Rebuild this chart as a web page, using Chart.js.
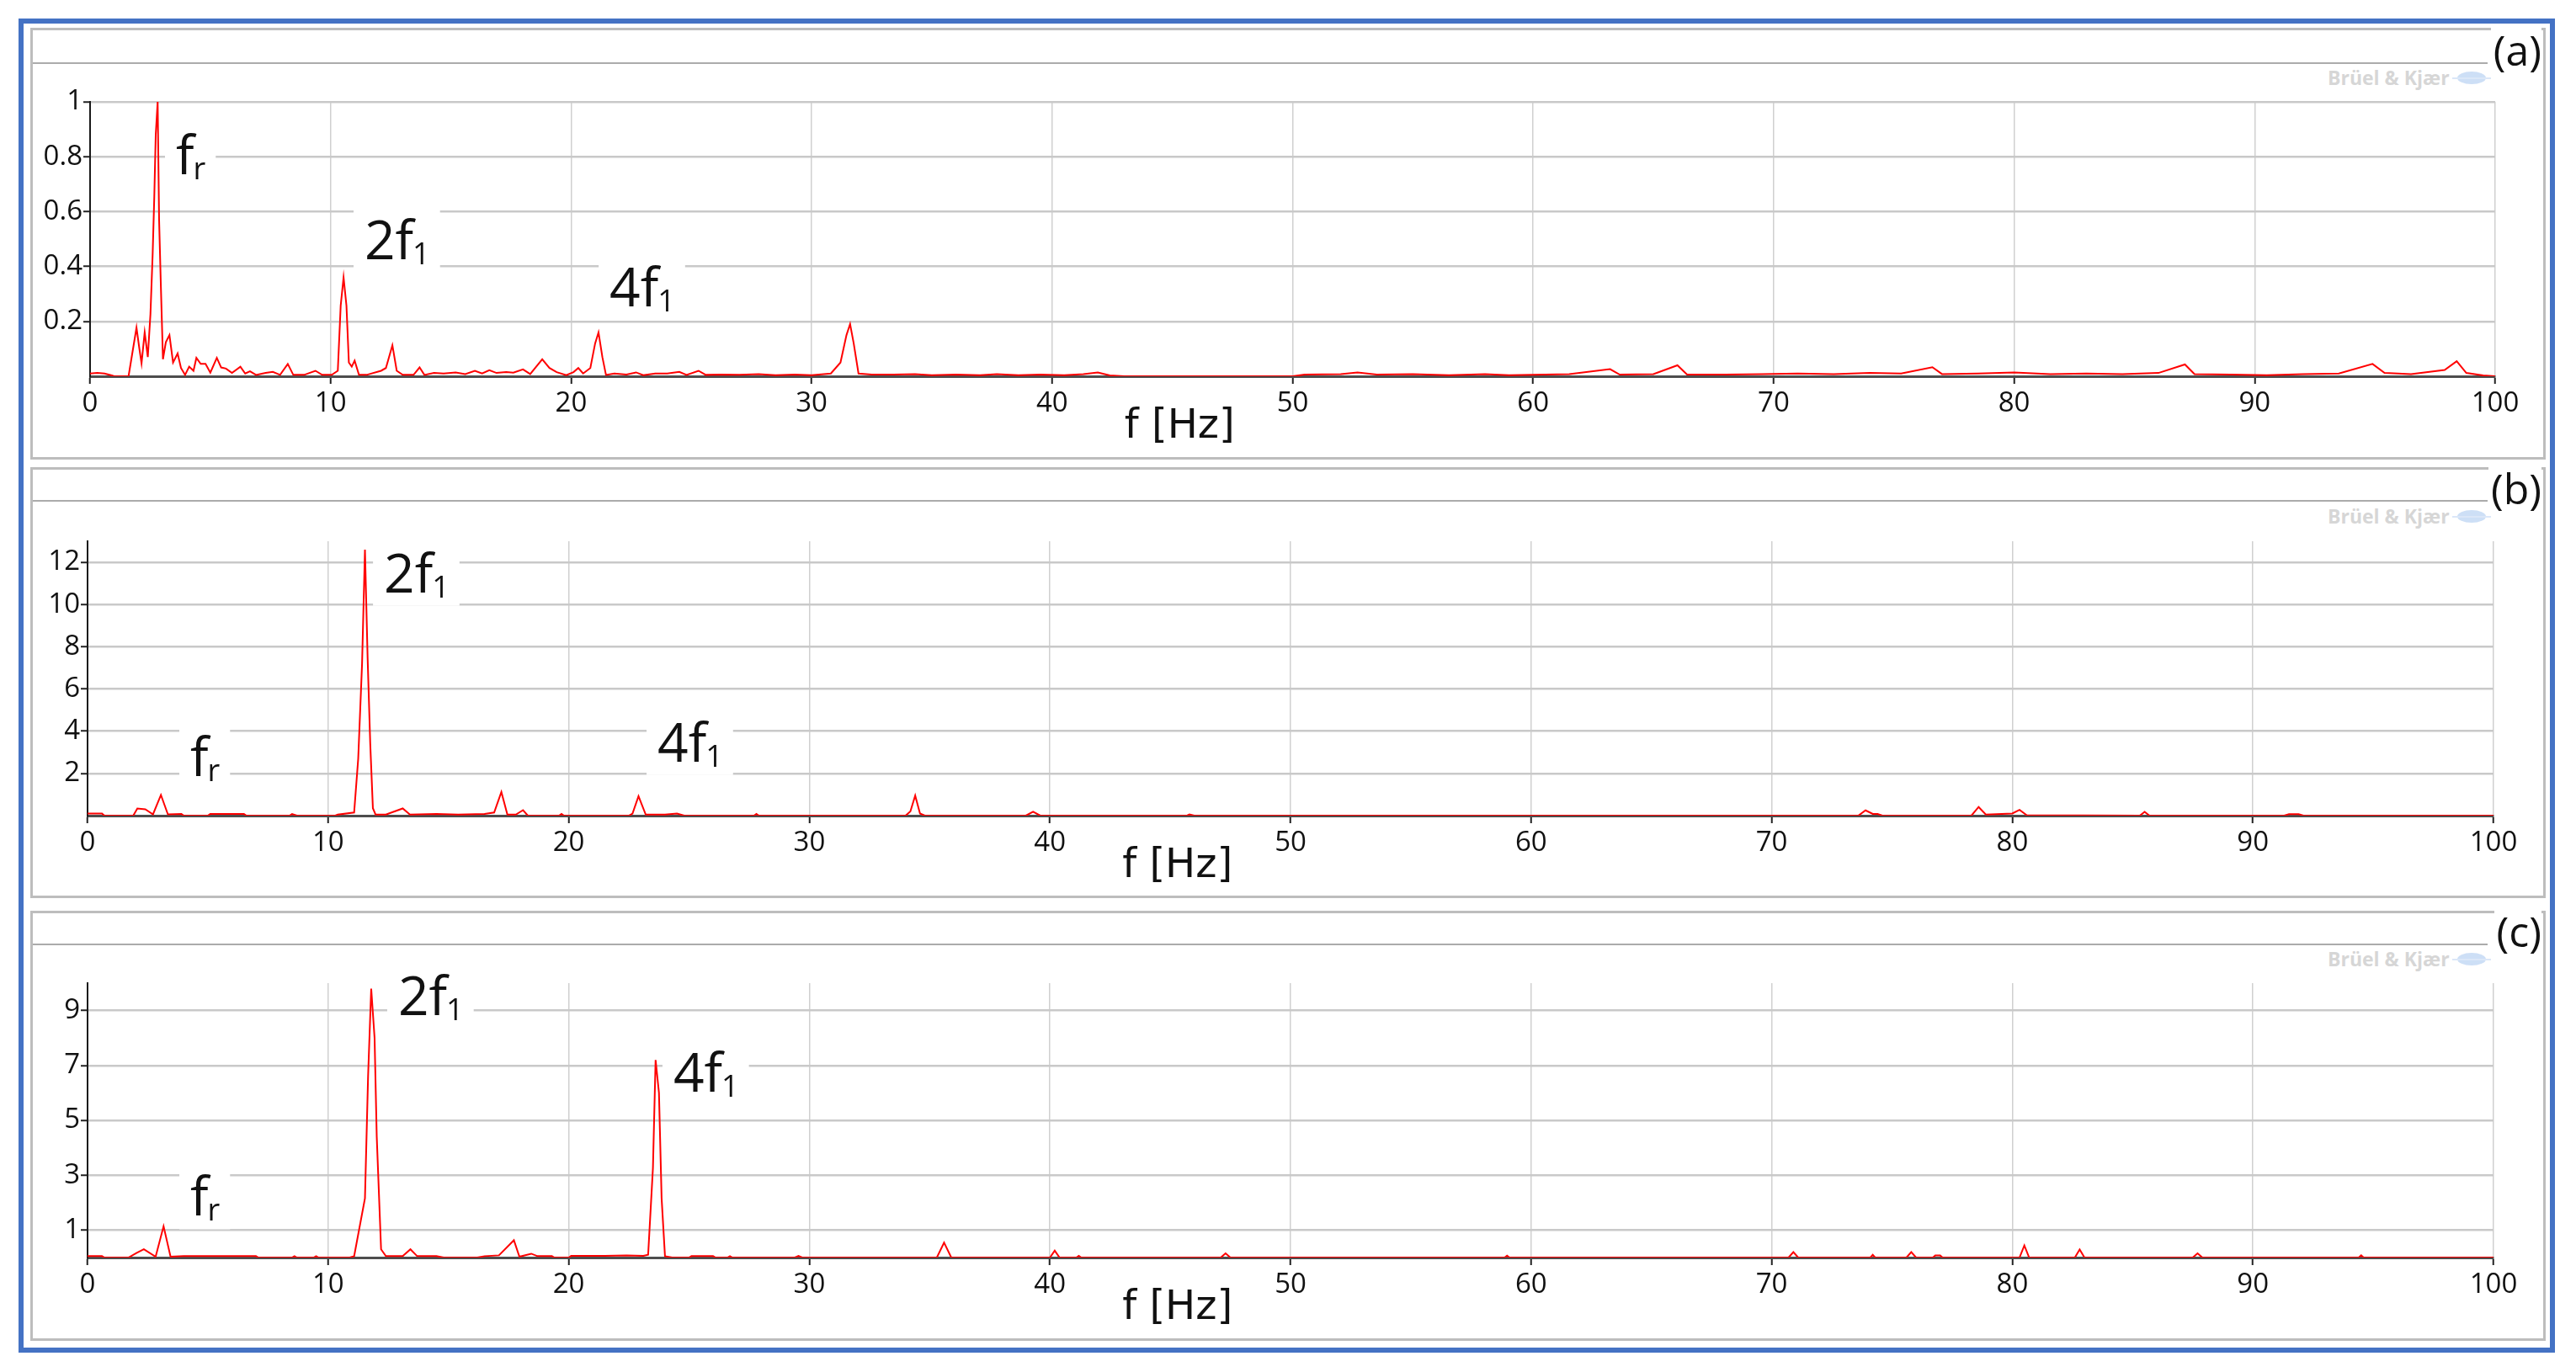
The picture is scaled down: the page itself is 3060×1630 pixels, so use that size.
<!DOCTYPE html>
<html>
<head>
<meta charset="utf-8">
<script src="https://cdn.jsdelivr.net/npm/chart.js@4.4.1/dist/chart.umd.min.js"></script>
<style>
  body { margin:0; width:3060px; height:1630px; background:#fff; position:relative; overflow:hidden; font-family:"Open Sans", sans-serif; }
  .frame { position:absolute; left:22px; top:22px; width:3013px; height:1585px; border:6px solid #4472c4; box-sizing:border-box; }
  .panel { position:absolute; left:36px; width:2988px; border:3px solid #bdbdbd; box-sizing:border-box; background:#fff; }
  .hline { position:absolute; left:0; width:2916px; height:2px; background:#ababab; }
  .tag { position:absolute; right:2px; font-size:50px; line-height:56px; height:56px; color:#111; background:#fff; padding-left:3px; }
  .wm { position:absolute; left:2726px; font-size:23px; line-height:23px; font-weight:700; color:#d6d6d6; white-space:nowrap; }
  .logo { position:absolute; left:2880px; width:34px; height:15px; border-radius:50%; background:#cddff6; }
  .logo:after { content:""; position:absolute; left:-6px; top:7px; width:46px; height:2px; background:#dbe7f8; }
  canvas { position:absolute; left:0; }
</style>
</head>
<body>
<div class="frame"></div>

<div class="panel" style="top:33px;height:513px">
  <div class="hline" style="top:38px"></div>
  <div class="tag" style="top:-5px">(a)</div>
  <div class="wm" style="top:45px">Brüel &amp; Kjær</div>
  <div class="logo" style="top:49px"></div>
</div>
<div class="panel" style="top:555px;height:512px">
  <div class="hline" style="top:36px"></div>
  <div class="tag" style="top:-6px">(b)</div>
  <div class="wm" style="top:44px">Brüel &amp; Kjær</div>
  <div class="logo" style="top:48px"></div>
</div>
<div class="panel" style="top:1082px;height:511px">
  <div class="hline" style="top:36px"></div>
  <div class="tag" style="top:-7px">(c)</div>
  <div class="wm" style="top:43px">Brüel &amp; Kjær</div>
  <div class="logo" style="top:47px"></div>
</div>

<canvas id="cA" width="3060" height="465" style="top:78px"></canvas>
<canvas id="cB" width="3060" height="466" style="top:598px"></canvas>
<canvas id="cC" width="3060" height="465" style="top:1125px"></canvas>

<script>
// spectrum (a)
const freqA = [0,0.3,0.6,0.9,1.0,1.6,1.93,2.05,2.14,2.27,2.4,2.51,2.6,2.67,2.73,2.81,2.87,2.94,3.03,3.15,3.3,3.45,3.64,3.78,3.95,4.12,4.3,4.42,4.6,4.8,5.0,5.27,5.45,5.65,5.9,6.25,6.45,6.65,6.9,7.3,7.6,7.9,8.22,8.45,8.9,9.37,9.65,10.05,10.3,10.42,10.54,10.66,10.76,10.88,11.0,11.18,11.5,12.1,12.3,12.57,12.75,13.0,13.45,13.7,13.9,14.3,14.7,15.2,15.6,16.0,16.3,16.6,16.9,17.3,17.6,18.0,18.3,18.8,19.1,19.4,19.8,20.1,20.3,20.5,20.8,21.0,21.14,21.3,21.45,21.8,22.3,22.7,23.0,23.5,24.0,24.5,24.8,25.3,25.6,26.2,27.0,27.8,28.5,29.3,30.0,30.8,31.2,31.45,31.6,31.75,31.95,32.5,33.4,34.3,35.0,36.0,37.0,37.7,38.6,39.5,40.5,41.3,41.9,42.4,43.0,50.0,50.5,52.0,52.7,53.5,55.0,56.5,58.0,59.0,60.5,61.5,63.2,63.6,65.0,66.0,66.4,68.0,69.5,71.0,72.5,74.0,75.3,76.6,77.0,78.5,80.0,81.5,83.0,84.5,86.0,87.1,87.5,89.0,90.5,92.0,93.5,94.9,95.4,96.5,97.9,98.4,98.8,99.5,100];
const ampA  = [0.01,0.012,0.01,0.003,0,0,0.177,0.10,0.047,0.16,0.07,0.226,0.44,0.655,0.88,1.0,0.57,0.34,0.062,0.124,0.15,0.05,0.083,0.03,0.005,0.035,0.02,0.067,0.045,0.045,0.013,0.067,0.032,0.028,0.012,0.035,0.01,0.018,0.005,0.012,0.016,0.005,0.045,0.005,0.005,0.02,0.005,0.005,0.02,0.257,0.36,0.257,0.05,0.035,0.057,0.005,0.005,0.02,0.03,0.113,0.02,0.005,0.005,0.032,0.005,0.012,0.01,0.014,0.008,0.02,0.01,0.022,0.012,0.015,0.013,0.025,0.008,0.062,0.03,0.015,0.004,0.015,0.03,0.01,0.03,0.12,0.16,0.07,0.005,0.01,0.006,0.014,0.004,0.01,0.01,0.016,0.005,0.02,0.005,0.006,0.005,0.008,0.004,0.006,0.004,0.01,0.05,0.15,0.19,0.12,0.01,0.006,0.006,0.008,0.004,0.006,0.004,0.008,0.004,0.006,0.004,0.008,0.014,0.003,0,0,0.006,0.008,0.014,0.006,0.008,0.004,0.008,0.004,0.006,0.008,0.026,0.006,0.008,0.04,0.006,0.006,0.008,0.01,0.008,0.012,0.01,0.033,0.008,0.01,0.014,0.008,0.01,0.008,0.012,0.043,0.008,0.006,0.004,0.008,0.01,0.045,0.012,0.008,0.023,0.055,0.012,0.003,0];

// spectrum (b)
const freqB = [0,0.6,0.7,1.9,2.07,2.4,2.72,3.05,3.34,3.9,4.0,5.0,5.1,6.5,6.6,8.4,8.5,8.7,10.3,10.4,11.08,11.25,11.41,11.53,11.64,11.75,11.86,11.97,12.4,13.1,13.4,14.5,15.4,16.5,16.9,17.2,17.45,17.8,18.1,18.3,19.6,19.7,19.8,22.5,22.65,22.9,23.2,24.0,24.5,24.8,27.7,27.8,27.9,34.0,34.2,34.4,34.6,34.8,39.0,39.3,39.6,45.7,45.8,46.0,73.6,73.9,74.2,74.4,74.6,78.3,78.6,78.9,80.0,80.3,80.6,85.3,85.5,85.7,91.3,91.5,91.9,92.1,100];
const ampB  = [0.1,0.1,0,0,0.34,0.3,0.06,0.98,0.06,0.08,0,0,0.08,0.08,0,0,0.08,0,0,0.05,0.15,2.7,7.2,12.6,7.5,3.4,0.35,0.05,0.05,0.34,0.05,0.08,0.05,0.08,0.15,1.12,0.05,0.05,0.26,0,0,0.08,0,0,0.1,0.92,0.05,0.05,0.1,0,0,0.08,0,0,0.2,0.95,0.1,0,0,0.18,0,0,0.06,0,0,0.25,0.08,0.08,0,0,0.41,0.05,0.1,0.27,0.02,0,0.18,0,0,0.07,0.07,0,0];

// spectrum (c)
const freqC = [0,0.6,0.7,1.7,2.05,2.34,2.83,3.16,3.45,4.0,5.5,7.0,7.1,8.5,8.6,8.7,9.4,9.5,9.6,10.9,11.08,11.53,11.66,11.79,11.93,12.02,12.2,12.4,13.1,13.42,13.7,14.5,14.8,16.2,16.5,17.1,17.72,17.95,18.44,18.7,19.3,19.4,20.0,20.1,21.5,22.4,23.1,23.3,23.5,23.61,23.75,23.86,24.0,24.3,25.0,25.1,26.0,26.1,26.6,26.7,26.8,29.4,29.55,29.7,35.3,35.6,35.9,40.0,40.2,40.4,41.1,41.2,41.3,47.1,47.3,47.5,58.9,59.0,59.1,70.7,70.9,71.1,74.1,74.2,74.3,75.6,75.8,76.0,76.7,76.8,77.0,77.1,80.3,80.5,80.7,82.6,82.8,83.0,87.5,87.7,87.9,94.4,94.5,94.6,100];
const ampC  = [0.05,0.05,0,0,0.17,0.3,0.03,1.14,0.03,0.05,0.05,0.05,0,0,0.05,0,0,0.05,0,0,0.05,2.16,6.6,9.8,8.0,4.4,0.3,0.05,0.05,0.3,0.05,0.05,0,0,0.05,0.08,0.63,0.03,0.14,0.05,0.05,0,0,0.06,0.06,0.08,0.06,0.1,3.27,7.2,6.0,2.16,0.05,0,0,0.05,0.05,0,0,0.05,0,0,0.06,0,0,0.54,0,0,0.25,0,0,0.06,0,0,0.15,0,0,0.07,0,0,0.2,0,0,0.1,0,0,0.2,0,0,0.08,0.08,0,0,0.44,0,0,0.29,0,0,0.15,0,0,0.08,0,0];

const xTicks  = [0,10,20,30,40,50,60,70,80,90,100];
const yTicksA = [0.2,0.4,0.6,0.8,1];
const yTicksB = [2,4,6,8,10,12];
const yTicksC = [1,3,5,7,9];

// peak labels: main text, subscript, Hz, value of the baseline
const notesA = [['f','r',3.57,0.736],['2f','1',11.41,0.426],['4f','1',21.6,0.255]];
const notesB = [['f','r',4.27,1.88],['2f','1',12.32,10.58],['4f','1',23.69,2.56]];
const notesC = [['f','r',4.27,1.52],['2f','1',12.91,8.82],['4f','1',24.35,6.03]];

const axisTitle = 'f [Hz]';

Chart.defaults.font.family = '"Open Sans", sans-serif';
Chart.defaults.color = '#111';

const peakNotes = {
  id: 'peakNotes',
  beforeDatasetsDraw(chart, args, opts) {
    const {ctx, scales: {x, y}} = chart;
    opts.notes.forEach(([main, sub, fx, fy]) => {
      const px = x.getPixelForValue(fx), py = y.getPixelForValue(fy);
      ctx.save();
      ctx.font = '64px "Open Sans"';
      const w1 = ctx.measureText(main).width;
      ctx.font = '36px "Open Sans"';
      const w2 = ctx.measureText(sub).width;
      ctx.fillStyle = '#fff';
      ctx.fillRect(px - 13, py - 62, w1 + w2 + 24, 78);
      ctx.fillStyle = '#111';
      ctx.textBaseline = 'alphabetic';
      ctx.font = '64px "Open Sans"';
      ctx.fillText(main, px, py);
      ctx.font = '36px "Open Sans"';
      ctx.fillText(sub, px + w1 - 1, py + 6);
      ctx.restore();
    });
  },
  afterDraw(chart) {
    const {ctx, chartArea, scales: {x}} = chart;
    ctx.save();
    ctx.font = '48px "DejaVu Sans"';
    ctx.fillStyle = '#111';
    ctx.textAlign = 'center';
    ctx.textBaseline = 'middle';
    ctx.fillText(axisTitle, x.getPixelForValue(45.3), chartArea.bottom + 61);
    ctx.restore();
  }
};

function spectrum(id, freq, amp, yMax, yTicks, notes, box) {
  const canvas = document.getElementById(id);
  const top = parseFloat(canvas.style.top);
  new Chart(canvas, {
    type: 'line',
    data: { datasets: [{ data: freq.map((f, i) => ({x: f, y: amp[i]})), borderColor: '#ff0000', borderWidth: 2, pointRadius: 0, tension: 0, fill: false }] },
    options: {
      responsive: false, animation: false, events: [],
      layout: { padding: { left: 0, right: 3060 - box.right, top: box.top - top, bottom: 0 } },
      plugins: { legend: { display: false }, tooltip: { enabled: false }, peakNotes: { notes } },
      scales: {
        x: {
          type: 'linear', min: 0, max: 100,
          afterBuildTicks: s => { s.ticks = xTicks.map(v => ({value: v})); },
          afterFit: s => { s.height = canvas.height - (box.bottom - top); },
          grid: { color: '#d0d0d0', lineWidth: 1.5, tickLength: 9, tickColor: '#222', tickWidth: 2 },
          border: { color: '#4d4d4d', width: 3 },
          ticks: { font: { size: 33 }, color: '#111', padding: 4, maxRotation: 0, autoSkip: false, callback: v => String(v) }
        },
        y: {
          min: 0, max: yMax,
          afterBuildTicks: s => { s.ticks = yTicks.map(v => ({value: v})); },
          afterFit: s => { s.width = box.left; },
          grid: { color: '#c9c9c9', lineWidth: 2.5, tickLength: 8, tickColor: '#222', tickWidth: 2 },
          border: { color: '#1a1a1a', width: 2 },
          ticks: { font: { size: 33 }, color: '#111', padding: 1, callback: v => String(v) }
        }
      }
    },
    plugins: [peakNotes]
  });
}

spectrum('cA', freqA, ampA, 1, yTicksA, notesA, {left: 107, right: 2964, top: 121, bottom: 447});
spectrum('cB', freqB, ampB, 13, yTicksB, notesB, {left: 104, right: 2962, top: 643, bottom: 969});
spectrum('cC', freqC, ampC, 10, yTicksC, notesC, {left: 104, right: 2962, top: 1168, bottom: 1494});
</script>
</body>
</html>
